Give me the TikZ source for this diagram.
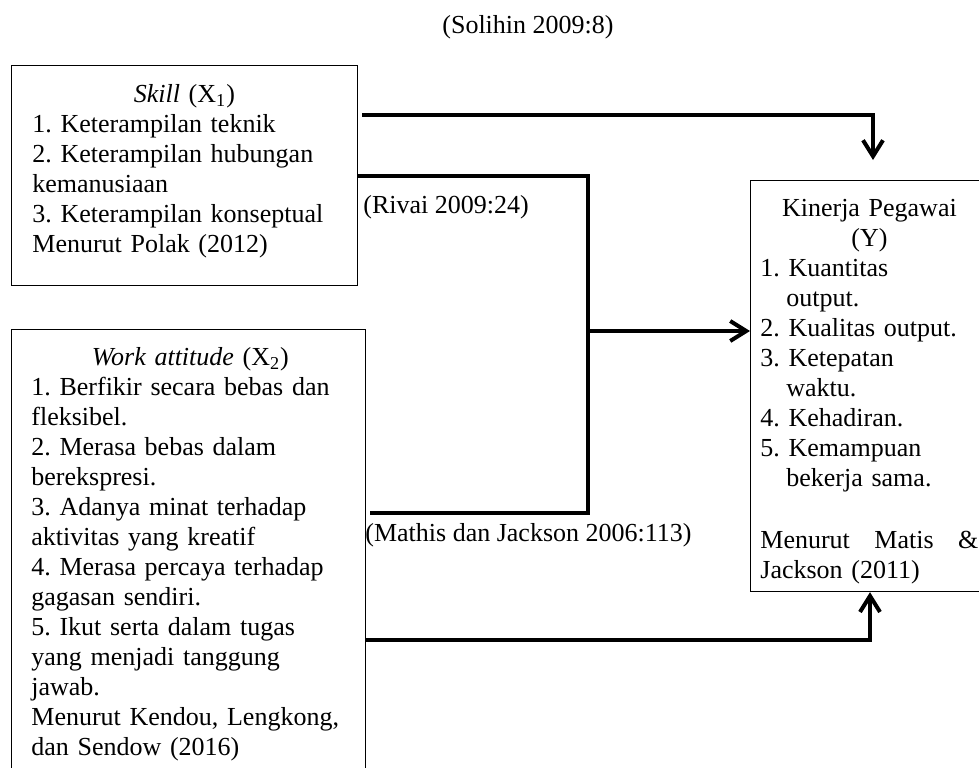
\documentclass[tikz,border=0pt]{standalone}
\usepackage{fontspec}
\setmainfont{Liberation Serif}
\usetikzlibrary{arrows.meta}
\frenchspacing
\begin{document}
\begin{tikzpicture}[x=0.5pt,y=-0.5pt,
  box/.style={draw=black, line width=0.6pt, inner sep=0pt, anchor=north west},
  txt/.style={inner sep=0pt, anchor=north west, align=left, font=\fontsize{13}{15}\selectfont\frenchspacing},
  lbl/.style={inner sep=0pt, font=\fontsize{13}{15}\selectfont\frenchspacing},
  conn/.style={line width=2pt},
  tip/.style={-{Straight Barb[length=8pt,width=10pt]}}]
\useasboundingbox (0,0) rectangle (979,767);

% boxes
\node[box, minimum width=173pt, minimum height=110pt] (x1) at (11,65) {};
\node[box, minimum width=177pt, minimum height=230.5pt] (x2) at (11,329) {};
\node[box, minimum width=119pt, minimum height=205.5pt] (y) at (750,180) {};

% box texts
\node[txt, text width=152pt] (x1t) at (32,84) {\centering\textit{Skill} (X\textsubscript{1})\par\raggedright
1. Keterampilan teknik\\
2. Keterampilan hubungan\\
kemanusiaan\\
3. Keterampilan konseptual\\
Menurut Polak (2012)};

\node[txt, text width=159pt] (x2t) at (31,347) {\centering\textit{Work attitude} (X\textsubscript{2})\par\raggedright
1. Berfikir secara bebas dan\\
fleksibel.\\
2. Merasa bebas dalam\\
berekspresi.\\
3. Adanya minat terhadap\\
aktivitas yang kreatif\\
4. Merasa percaya terhadap\\
gagasan sendiri.\\
5. Ikut serta dalam tugas\\
yang menjadi tanggung\\
jawab.\\
Menurut Kendou, Lengkong,\\
dan Sendow (2016)};

\node[txt, text width=109pt] (yt) at (760,199) {\centering Kinerja Pegawai\\(Y)\par\raggedright
1. Kuantitas\\
\hspace*{1em}output.\\
2. Kualitas output.\\
3. Ketepatan\\
\hspace*{1em}waktu.\\
4. Kehadiran.\\
5. Kemampuan\\
\hspace*{1em}bekerja sama.\\[16pt]
\leavevmode\hbox to\hsize{Menurut\hfill Matis\hfill\&}\\
Jackson (2011)};

% labels
\node[lbl, anchor=west] (sol) at (442,27) {(Solihin 2009:8)};
\node[lbl, anchor=west] (riv) at (363,207) {(Rivai 2009:24)};
\node[lbl, anchor=west] (mat) at (365,535) {(Mathis dan Jackson 2006:113)};

% connectors
\coordinate (s1) at (362,115);
\coordinate (t1) at (873,160);
\draw[conn, tip] (s1) -| (t1);

\coordinate (j1) at (588,176);
\coordinate (j2) at (588,513);
\coordinate (e2) at (370,513);
\draw[conn] (x1.east |- j1) -- (j1) -- (j2) -- (e2);
\coordinate (m) at (588,331);
\draw[conn, tip] (m) -- (y.west |- m);

\coordinate (b1) at (870,640);
\draw[conn, tip] (x2.east |- b1) -- (b1) -- (b1 |- y.south);
\end{tikzpicture}
\end{document}
